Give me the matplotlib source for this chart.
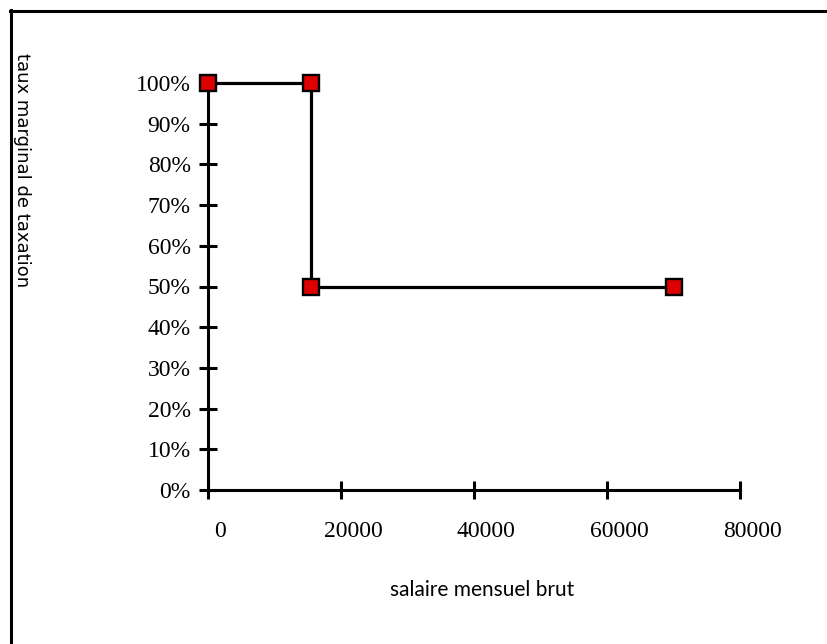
import numpy as np
import matplotlib
matplotlib.use('Agg')
import matplotlib.pyplot as plt
from matplotlib.lines import Line2D
import matplotlib.transforms as mtransforms

# data
salaire = [0, 15500, 15500, 70000]
taux = [1.0, 1.0, 0.5, 0.5]
x_ticks = [0, 20000, 40000, 60000, 80000]
y_ticks = [i / 10 for i in range(11)]
y_labels = ['%d%%' % (i * 10) for i in range(11)]

W, H = 827, 644
fig = plt.figure(figsize=(W / 100, H / 100), dpi=100)
fig.patch.set_facecolor('white')

# axes box in pixels: x 208..740, y 83..490 (from top)
ax = fig.add_axes([208 / W, (H - 490) / H, 532 / W, 407 / H])
ax.set_xlim(0, 80000)
ax.set_ylim(0, 1.0)

ax.plot(salaire, taux, color='black', linewidth=2.3, marker='s',
        markersize=11.5, markerfacecolor='#dd0000', markeredgecolor='black',
        markeredgewidth=1.7, clip_on=False, zorder=5)

for side in ['top', 'right']:
    ax.spines[side].set_visible(False)
for side in ['left', 'bottom']:
    ax.spines[side].set_linewidth(2.2)

ax.set_xticks(x_ticks)
ax.set_xticklabels([str(v) for v in x_ticks])
ax.set_yticks(y_ticks)
ax.set_yticklabels(y_labels)
ax.tick_params(direction='inout', length=13, width=2.2, colors='black')
ax.tick_params(axis='x', pad=16)
ax.tick_params(axis='y', pad=6)

for lbl in ax.get_xticklabels() + ax.get_yticklabels():
    lbl.set_fontfamily('Liberation Serif')
    lbl.set_fontsize(17)

# x tick labels sit a bit to the right of their ticks
shift = mtransforms.ScaledTranslation(12 / 100, 0, fig.dpi_scale_trans)
for lbl in ax.get_xticklabels():
    lbl.set_transform(lbl.get_transform() + shift)

fig.text(482 / W, 1 - 590 / H, 'salaire mensuel brut', ha='center', va='center',
         fontsize=15, family='Lato')
fig.text(22 / W, 1 - 170 / H, 'taux marginal de taxation', ha='center', va='center',
         rotation=270, fontsize=13, family='DejaVu Sans')

# outer frame (only left and top edges show)
fig.add_artist(Line2D([11 / W, 11 / W], [0, 1 - 10 / H], transform=fig.transFigure,
                      color='black', linewidth=2.2))
fig.add_artist(Line2D([10 / W, 1], [1 - 11 / H, 1 - 11 / H], transform=fig.transFigure,
                      color='black', linewidth=2.2))

fig.savefig('out.png', dpi=100, facecolor='white')
